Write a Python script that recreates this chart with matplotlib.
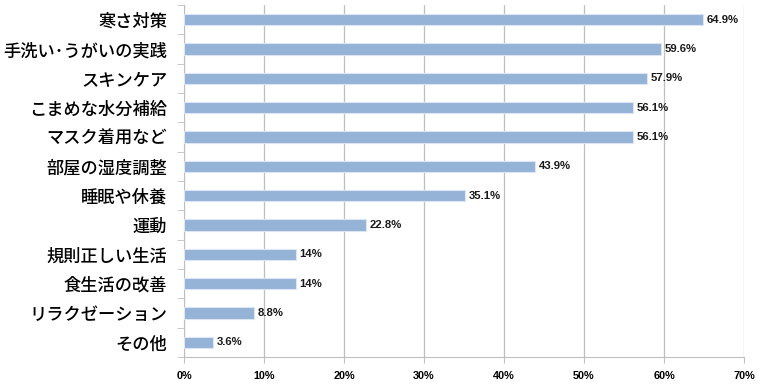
import matplotlib
matplotlib.use("Agg")
import matplotlib.pyplot as plt
import numpy as np

plt.rcParams['font.family'] = ['Noto Sans CJK JP', 'DejaVu Sans']

categories = ["寒さ対策", "手洗い･うがいの実践", "スキンケア", "こまめな水分補給", "マスク着用など",
              "部屋の湿度調整", "睡眠や休養", "運動", "規則正しい生活", "食生活の改善",
              "リラクゼーション", "その他"]
values = [64.9, 59.6, 57.9, 56.1, 56.1, 43.9, 35.1, 22.8, 14, 14, 8.8, 3.6]
labels = ["64.9%", "59.6%", "57.9%", "56.1%", "56.1%", "43.9%", "35.1%", "22.8%", "14%", "14%", "8.8%", "3.6%"]
xticks = [0, 10, 20, 30, 40, 50, 60, 70]

fig = plt.figure(figsize=(7.6, 3.87), dpi=100)
ax = fig.add_axes([184/760, 1-357/387, (744-184)/760, (357-5)/387])

n = len(categories)
y = np.arange(n)
ax.barh(y, values, height=0.38, color="#95B3D7", edgecolor="#DCE6F2", linewidth=0.8, zorder=3)
for yi, v, lab in zip(y, values, labels):
    ax.text(v + 0.45, yi, lab, va="center", ha="left", fontsize=8.2, fontweight="bold",
            family=["Liberation Sans", "DejaVu Sans"], color="#1a1a1a")

ax.set_ylim(n - 0.5, -0.5)
ax.set_xlim(0, 70)
ax.set_xticks(xticks)
ax.set_xticklabels([f"{t}%" for t in xticks], fontsize=7.8, fontweight="bold",
                   family=["Liberation Sans", "DejaVu Sans"])
ax.set_yticks(y)
ax.set_yticklabels(categories, fontsize=12.4, fontweight="medium")
ax.tick_params(axis="y", length=0, pad=12)
ax.set_yticks(np.arange(-0.5, n + 0.5, 1), minor=True)
ax.tick_params(axis="y", which="minor", length=5, color="#BFBFBF")
ax.tick_params(axis="x", length=4, color="#BFBFBF", pad=6)
ax.grid(axis="x", color="#BFBFBF", linewidth=0.9, zorder=0)
for s in ["top", "right"]:
    ax.spines[s].set_visible(False)
for s in ["left", "bottom"]:
    ax.spines[s].set_color("#BFBFBF")

fig.savefig("out.png", dpi=100)
